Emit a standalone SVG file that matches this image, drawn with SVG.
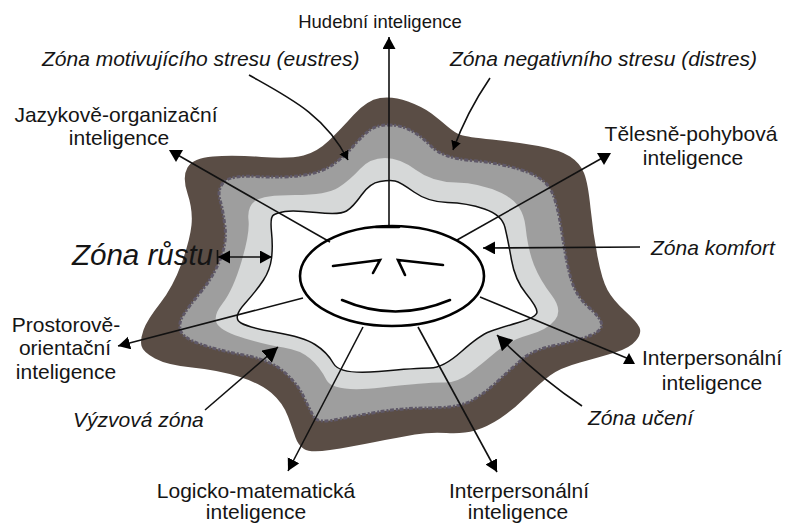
<svg xmlns="http://www.w3.org/2000/svg" width="786" height="524" viewBox="0 0 786 524">
<defs>
<filter id="soft" x="-5%" y="-5%" width="110%" height="110%"><feGaussianBlur stdDeviation="0.7"/></filter>
<marker id="head" markerUnits="userSpaceOnUse" markerWidth="14" markerHeight="14" refX="12" refY="6.500" orient="auto-start-reverse"><path d="M0,0 L12,6.500 L0,13 Z" fill="#000"/></marker>
<marker id="headL" markerUnits="userSpaceOnUse" markerWidth="16" markerHeight="18" refX="15" refY="8" orient="auto"><path d="M0,0 L15,8 L0,16 Z" fill="#000"/></marker>
<marker id="headS" markerUnits="userSpaceOnUse" markerWidth="11" markerHeight="11" refX="9" refY="5" orient="auto"><path d="M0,0 L9,5 L0,10 Z" fill="#000"/></marker>
<marker id="headDown" markerUnits="userSpaceOnUse" markerWidth="15" markerHeight="14" refX="7" refY="4" orient="0"><path d="M0,0 H14 L7,12 Z" fill="#000"/></marker>
<marker id="headUp" markerUnits="userSpaceOnUse" markerWidth="14" markerHeight="13" refX="6" refY="6" orient="0"><path d="M0,11 H12 L6,0 Z" fill="#000"/></marker>
</defs>
<style>
text{font-family:"Liberation Sans",Arial,sans-serif;font-size:21px;fill:#151515;text-anchor:middle}
.i{font-style:italic}
.l{text-anchor:start}
.c{fill:none;stroke:#111;stroke-width:1.600}
.a{marker-end:url(#head)}
.aL{marker-end:url(#headL)}
.aS{marker-end:url(#headS)}
.aD{marker-end:url(#headDown)}
.aU{marker-end:url(#headUp)}
.face{fill:none;stroke:#000;stroke-width:2.600;stroke-linecap:round;stroke-linejoin:miter}
</style>
<rect width="786" height="524" fill="#fff"/>
<g id="zones">
<path id="zona-vyzvova-distres" filter="url(#soft)" fill="#5a4d45" d="M380,98 Q393,96 408,101.500 Q423,107 431.500,113.500 Q440,120 447.500,126.500 Q455,133 461,135 Q467,137 492,139.500 Q517,142 538.500,146 Q560,150 570,156.500 Q580,163 584,173 Q588,183 590.500,208 Q593,233 597.500,256.500 Q602,280 607.500,290 Q613,300 625,311 Q637,322 639.500,327.500 Q642,333 636,340.500 Q630,348 615,352.500 Q600,357 580,362.500 Q560,368 550,375.500 Q540,383 526.500,396.500 Q513,410 500,418.500 Q487,427 475,430.500 Q463,434 446.500,433 Q430,432 415,434.500 Q400,437 375,442 Q350,447 330,450 Q310,453 304,449 Q298,445 295.500,437.500 Q293,430 288,416.500 Q283,403 271.500,393 Q260,383 238.500,376.500 Q217,370 192,367.500 Q167,365 155,358.500 Q143,352 141.500,346 Q140,340 143.500,330 Q147,320 160,303.500 Q173,287 181.500,263.500 Q190,240 191.500,225 Q193,210 187.500,193.500 Q182,177 187.500,167.500 Q193,158 213,156.500 Q233,155 261.500,157 Q290,159 303.500,155.500 Q317,152 328.500,141 Q340,130 353.500,115 Q367,100 380,98Z"/>
<path id="zona-motivujici" filter="url(#soft)" fill="#9e9e9e" stroke="#5f5968" stroke-width="3" stroke-dasharray="4 1.500 2 2" d="M388.500,125 Q400,125 410,130 Q420,135 431.500,146.500 Q443,158 471.500,160.500 Q500,163 521.500,170 Q543,177 550,188.500 Q557,200 562,233.500 Q567,267 572,282 Q577,297 588.500,307 Q600,317 601.500,323.500 Q603,330 591.500,335 Q580,340 556.500,345 Q533,350 523,358.500 Q513,367 498,381 Q483,395 470,401.500 Q457,408 428.500,408 Q400,408 375,412.500 Q350,417 333.500,420 Q317,423 313.500,416.500 Q310,410 303.500,396.500 Q297,383 283.500,371.500 Q270,360 243.500,355 Q217,350 200,344 Q183,338 180.500,330.500 Q178,323 184,314 Q190,305 201.500,291 Q213,277 220,260 Q227,243 225,226.500 Q223,210 220,200 Q217,190 223.500,182.500 Q230,175 256.500,176.500 Q283,178 301.500,175.500 Q320,173 331.500,165.500 Q343,158 353,146.500 Q363,135 370,130 Q377,125 388.500,125Z"/>
<path id="zona-uceni" filter="url(#soft)" fill="#d6d8d8" d="M385,158 Q400,158 416,170 Q432,182 456,182.500 Q480,183 501.500,193 Q523,203 525.500,226.500 Q528,250 534,265 Q540,280 551.500,295 Q563,310 555,320 Q547,330 528.500,335 Q510,340 496.500,351.500 Q483,363 470,373 Q457,383 443.500,382.500 Q430,382 381.500,387.500 Q333,393 326.500,380 Q320,367 310,358.500 Q300,350 283.500,347.500 Q267,345 245,338.500 Q223,332 217.500,324.500 Q212,317 222.500,303.500 Q233,290 241.500,261.500 Q250,233 248.500,220 Q247,207 255,201 Q263,195 295,195 Q327,195 338.500,187.500 Q350,180 360,169 Q370,158 385,158Z"/>
<path id="zona-komfort" fill="#fff" stroke="#111" stroke-width="1.500" d="M395,181 Q400,182 414,192 Q428,202 447.500,202.500 Q467,203 484.500,209 Q502,215 505,227.500 Q508,240 511.500,260 Q515,280 526,293.500 Q537,307 537,312 Q537,317 518.500,322.500 Q500,328 490,331.500 Q480,335 461.500,351.500 Q443,368 430,368 Q417,368 378.500,371.500 Q340,375 333.500,363.500 Q327,352 315,344.500 Q303,337 276.500,332.500 Q250,328 241,323 Q232,318 244.500,304 Q257,290 263.500,280 Q270,270 271.500,258.500 Q273,247 271.500,232 Q270,217 273.500,215 Q277,213 285,211.500 Q293,210 316.500,212.500 Q340,215 346.500,211 Q353,207 361.500,195 Q370,183 380,181.500 Q390,180 395,181Z"/>
</g>
<g id="connectors">
<path class="c a" d="M389,227 V37"/>
<path class="c aD" d="M330,242 L176,154"/>
<path class="c aD" d="M457,240 L604,157"/>
<path class="c a" d="M640,247 L483,248"/>
<path class="c aU" d="M480,297 L629,359"/>
<path class="c a" d="M418,327 L497,472"/>
<path class="c a" d="M363,327 L288,471"/>
<path class="c a" d="M303,298 L118,346"/>
<path class="c aS" d="M249,75 C290,98 325,115 348,160"/>
<path class="c aS" d="M490,78 C475,100 462,125 453,150"/>
<path class="c aL" d="M205,410 L278,347"/>
<path class="c aL" d="M582,406 Q540,378 497,335"/>
<path class="c a" style="marker-start:url(#head)" d="M218,257 H272"/>
<path class="c" d="M217.500,250 V264"/>
</g>
<g id="face">
<ellipse cx="392" cy="276" rx="92" ry="50" class="face"/>
<path class="face" d="M376,227 H399"/>
<path class="face" d="M333,266 L380,260 L373,273"/>
<path class="face" d="M405,275 L398,260 L443,265"/>
<path class="face" d="M342,300 Q395,323 450,300"/>
</g>
<g id="hudebni"><text x="380" y="28" style="font-size:18.500px">Hudební inteligence</text></g>
<g id="zona-motivujiciho"><text class="i l" x="42" y="66">Zóna motivujícího stresu (eustres)</text></g>
<g id="zona-negativniho"><text class="i l" x="450" y="66">Zóna negativního stresu (distres)</text></g>
<g id="jazykove"><text x="116" y="122">Jazykově-organizační</text><text x="119" y="145">inteligence</text></g>
<g id="telesne"><text x="691" y="141">Tělesně-pohybová</text><text x="693" y="165">inteligence</text></g>
<g id="zona-rustu"><text class="i l" x="72" y="265" style="font-size:29.500px">Zóna růstu</text></g>
<g id="zona-komfort-label"><text class="i l" x="651" y="255">Zóna komfort</text></g>
<g id="prostorove"><text x="66" y="332">Prostorově-</text><text x="65" y="355">orientační</text><text x="66" y="379">inteligence</text></g>
<g id="interpersonalni-prava"><text x="712" y="365">Interpersonální</text><text x="712" y="390">inteligence</text></g>
<g id="vyzvova"><text class="i l" x="73" y="427">Výzvová zóna</text></g>
<g id="zona-uceni-label"><text class="i l" x="588" y="425">Zóna učení</text></g>
<g id="logicko"><text x="256" y="498">Logicko-matematická</text><text x="256" y="519">inteligence</text></g>
<g id="interpersonalni-dolni"><text x="519" y="498">Interpersonální</text><text x="518" y="519">inteligence</text></g>
</svg>
